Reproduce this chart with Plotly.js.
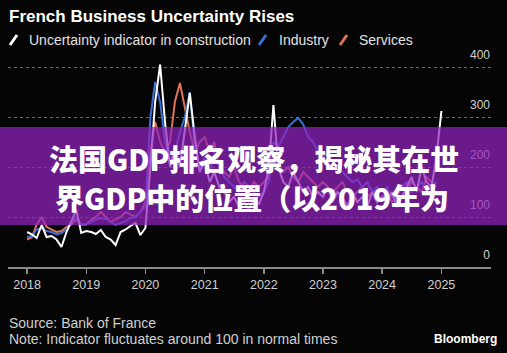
<!DOCTYPE html>
<html>
<head>
<meta charset="utf-8">
<script src="https://cdn.plot.ly/plotly-3.0.1.min.js"></script>
<style>
html,body{margin:0;padding:0;background:#050505;}
#chart{width:507px;height:353px;}
</style>
</head>
<body>
<div id="chart"></div>
<script>
// ---- Data (monthly, Jan 2018 onward) ----
const startYear = 2018;
const construction = [
  70, 65, 58, 84, 60, 62, 55, 40, 70, 90, 114, 68,
  72, 70, 66, 74, 60, 55, 44, 70, 75, 82, 88, 64,
  78, 200, 330, 405, 290, 200, 240, 200, 280, 348, 260, 190,
  210, 170, 190, 160, 150, 130, 140, 120, 130, 115, 140, 125,
  150, 200, 324, 200, 170, 160, 190, 170, 150, 160, 140, 150,
  140, 160, 130, 150, 140, 120, 150, 130, 140, 120, 150, 130,
  140, 130, 150, 120, 140, 160, 180, 150, 200, 170, 160, 220,
  312
];
const industry = [
  60, 62, 75, 78, 72, 70, 65, 68, 75, 90, 100, 85,
  85, 90, 95, 98, 96, 90, 84, 88, 92, 98, 100, 110,
  120, 300, 370, 330, 250, 210, 230, 270, 300, 350, 240, 200,
  220, 190, 230, 200, 180, 170, 160, 150, 170, 160, 150, 140,
  150, 170, 250, 240, 260, 280, 290, 298, 285, 260, 250, 230,
  220, 230, 210, 200, 190, 180, 170, 175, 160, 170, 150, 160,
  150, 160, 140, 150, 160, 170, 150, 160, 170, 150, 160, 170
];
const services = [
  55, 60, 85, 100, 80, 75, 70, 72, 80, 85, 95, 85,
  85, 95, 100, 110, 100, 90, 95, 100, 110, 105, 100, 110,
  130, 230, 290, 250, 230, 250, 330, 368, 320, 270, 230, 250,
  260, 230, 250, 200, 190, 180, 200, 170, 160, 150, 170, 160,
  170, 180, 230, 210, 190, 200, 180, 170, 190, 180, 170, 160,
  170, 160, 150, 160, 170, 150, 140, 150, 160, 140, 150, 130,
  140, 150, 130, 140, 160, 150, 170, 160, 150, 180, 170, 160
];
const seriesNames = ["Uncertainty indicator in construction", "Industry", "Services"];
const seriesColors = ["#ffffff", "#3b6fd6", "#e0735a"];
const yTicks = [0, 100, 200, 300, 400];
const xTickYears = [2018, 2019, 2020, 2021, 2022, 2023, 2024, 2025];

function monthDates(n) {
  const out = [];
  for (let i = 0; i < n; i++) {
    const y = startYear + Math.floor(i / 12);
    const m = (i % 12) + 1;
    out.push(y + "-" + String(m).padStart(2, "0") + "-01");
  }
  return out;
}

// ---- layout geometry (pixels) ----
const W = 507, H = 353;
const mL = 8, mR = 16, mT = 40, mB = 86;
const plotW = W - mL - mR, plotH = H - mT - mB;   // plotH = 227 -> 0.5 px per unit
const yTop = plotH * 2;
const px = x => (x - mL) / plotW;          // pixel -> paper x
const py = y => (H - mB - y) / plotH;      // pixel -> paper y

const FONT = "Liberation Sans, Arial, sans-serif";

const traces = [
  {x: monthDates(services.length), y: services, name: seriesNames[2], type: "scatter", mode: "lines",
   line: {color: seriesColors[2], width: 2}},
  {x: monthDates(industry.length), y: industry, name: seriesNames[1], type: "scatter", mode: "lines",
   line: {color: seriesColors[1], width: 2}},
  {x: monthDates(construction.length), y: construction, name: seriesNames[0], type: "scatter", mode: "lines",
   line: {color: seriesColors[0], width: 2}}
];

const legendItems = [
  {slash: [10, 45, 17, 35], textX: 27, color: seriesColors[0], text: seriesNames[0]},
  {slash: [259, 45, 266, 35], textX: 277, color: seriesColors[1], text: seriesNames[1]},
  {slash: [340, 45, 347, 35], textX: 357, color: seriesColors[2], text: seriesNames[2]}
];

const shapes = [];
const annotations = [];

legendItems.forEach(it => {
  shapes.push({type: "line", xref: "paper", yref: "paper",
    x0: px(it.slash[0]), y0: py(it.slash[1]), x1: px(it.slash[2]), y1: py(it.slash[3]),
    line: {color: it.color, width: 3}, layer: "above"});
  annotations.push({xref: "paper", yref: "paper", x: px(it.textX), y: py(40),
    xanchor: "left", yanchor: "middle", showarrow: false, text: it.text,
    font: {family: FONT, size: 14, color: "#e2e2e2"}});
});

// Title
annotations.push({xref: "paper", yref: "paper", x: px(7), y: py(16), xanchor: "left", yanchor: "middle",
  showarrow: false, text: "<b>French Business Uncertainty Rises</b>",
  font: {family: FONT, size: 17, color: "#ffffff"}});

// Footer
annotations.push({xref: "paper", yref: "paper", x: px(7), y: py(323), xanchor: "left", yanchor: "middle",
  showarrow: false, text: "Source: Bank of France", font: {family: FONT, size: 14, color: "#d0d0d0"}});
annotations.push({xref: "paper", yref: "paper", x: px(7), y: py(339), xanchor: "left", yanchor: "middle",
  showarrow: false, text: "Note: Indicator fluctuates around 100 in normal times",
  font: {family: FONT, size: 14, color: "#d0d0d0"}});
annotations.push({xref: "paper", yref: "paper", x: px(499), y: py(339), xanchor: "right", yanchor: "middle",
  showarrow: false, text: "<b>Bloomberg</b>", font: {family: FONT, size: 12, color: "#ffffff"}});

// Overlay banner
shapes.push({type: "rect", xref: "paper", yref: "paper", x0: px(0), x1: px(W), y0: py(225), y1: py(127),
  fillcolor: "rgba(146,34,190,0.72)", line: {width: 0}, layer: "above"});
const CJK = "Noto Sans CJK SC, sans-serif";
annotations.push({xref: "paper", yref: "paper", x: px(254), y: py(158), xanchor: "center", yanchor: "middle",
  showarrow: false, text: "法国GDP排名观察，揭秘其在世",
  font: {family: CJK, size: 29, color: "#ffffff", weight: 900}});
annotations.push({xref: "paper", yref: "paper", x: px(252), y: py(197), xanchor: "center", yanchor: "middle",
  showarrow: false, text: "界GDP中的位置（以2019年为",
  font: {family: CJK, size: 29, color: "#ffffff", weight: 900}});

const layout = {
  width: W, height: H,
  margin: {l: mL, r: mR, t: mT, b: mB, pad: 0},
  paper_bgcolor: "#050505",
  plot_bgcolor: "#050505",
  showlegend: false,
  xaxis: {
    type: "date",
    range: ["2017-09-05", "2025-11-03"],
    tickvals: xTickYears.map(y => y + "-01-01"),
    ticktext: xTickYears.map(String),
    showgrid: false, zeroline: false,
    showline: true, linecolor: "#8a8a8a", linewidth: 1.5,
    ticks: "outside", ticklen: 5, tickcolor: "#8a8a8a", tickwidth: 1.5,
    tickfont: {family: FONT, size: 12.5, color: "#d0d0d0"},
    fixedrange: true
  },
  yaxis: {
    side: "right",
    range: [0, yTop],
    tickvals: yTicks,
    ticktext: yTicks.map(String),
    ticklabelposition: "inside",
    ticklabelshift: -12,
    ticklabelstandoff: -2,
    showgrid: true, gridcolor: "#6a6a6a", griddash: "dot", gridwidth: 1,
    zeroline: false, showline: false, ticks: "",
    tickfont: {family: FONT, size: 12, color: "#d0d0d0"},
    fixedrange: true
  },
  shapes: shapes,
  annotations: annotations
};

Plotly.newPlot("chart", traces, layout, {displayModeBar: false, staticPlot: true});
</script>
</body>
</html>
